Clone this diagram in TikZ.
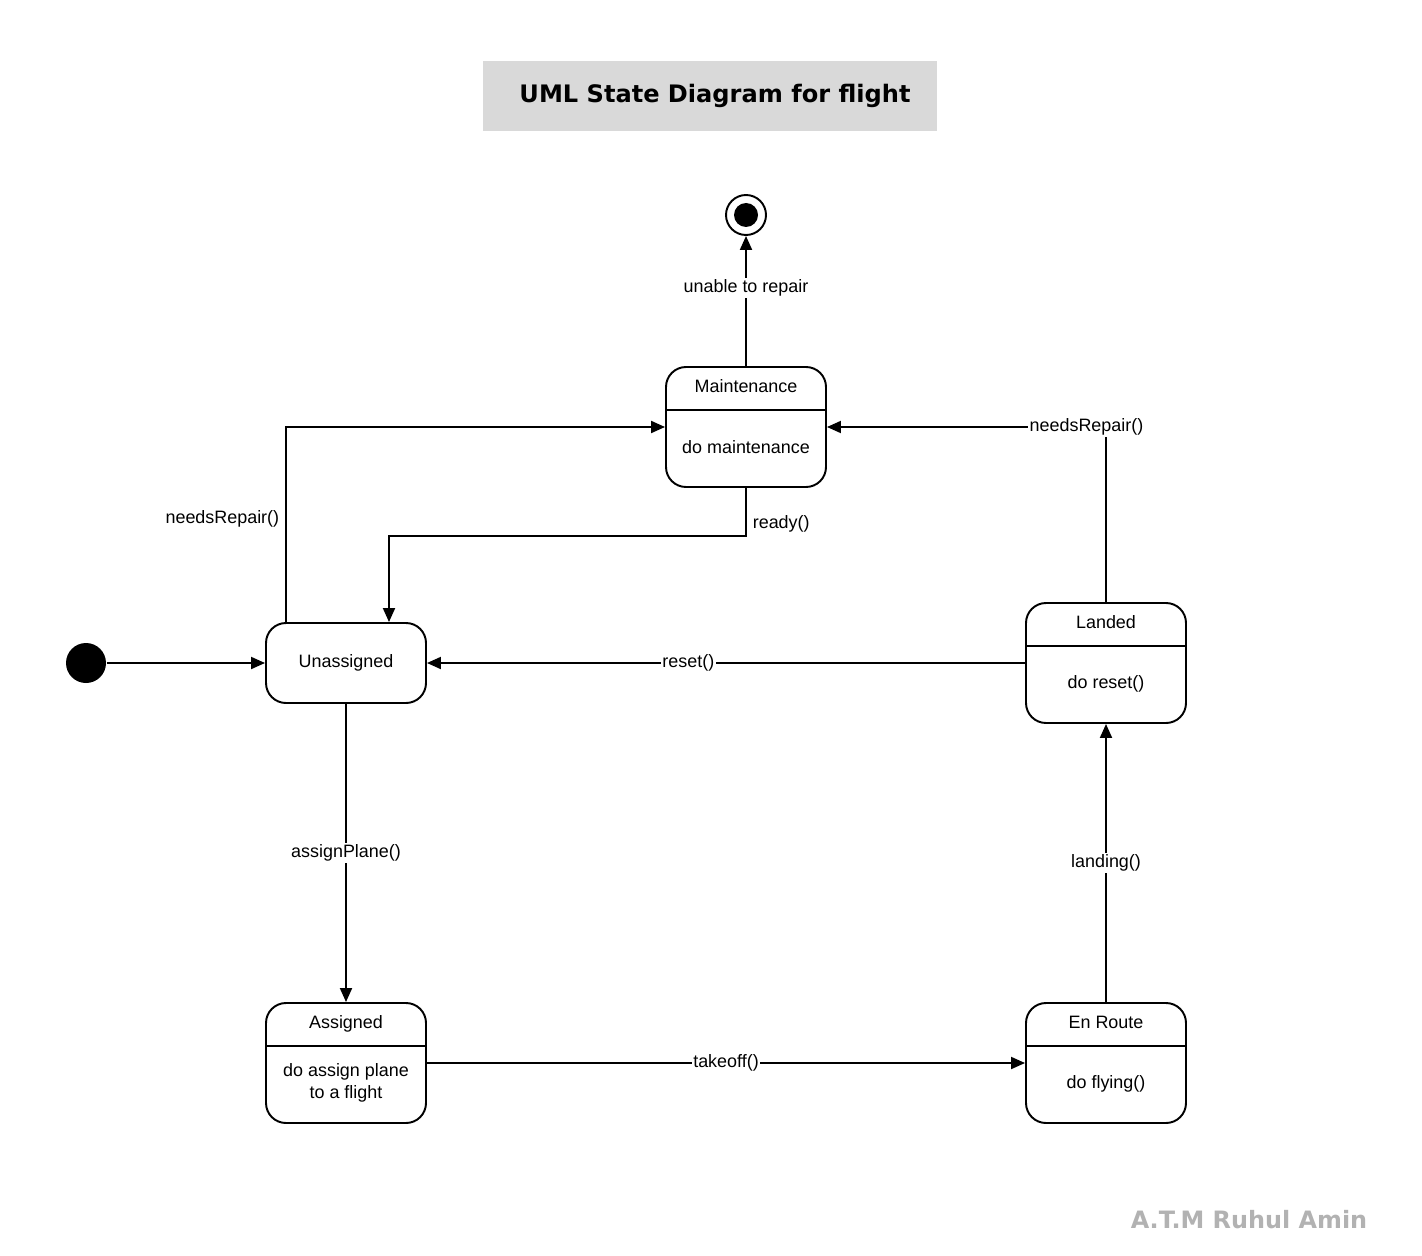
\documentclass[tikz,border=0pt]{standalone}
\usepackage{fontspec}
\setmainfont{Liberation Sans}
\newfontfamily\titlefont{DejaVu Sans}
\usepackage{tikz}
\usetikzlibrary{arrows.meta}
\definecolor{titlegray}{RGB}{217,217,217}
\definecolor{signgray}{RGB}{178,178,178}

\begin{document}
\begin{tikzpicture}[
	font=\fontsize{10.2}{12.2}\selectfont,
	line width=1.1pt,
	state/.style={draw,rounded corners=0.4cm,minimum width=3.2cm,minimum height=2.4cm,inner sep=0pt},
	trans/.style={-{Triangle[length=0.28cm,width=0.24cm]}},
	lbl/.style={fill=white,inner sep=1pt},
	]
	\useasboundingbox (0,0) rectangle (28.44,-25.12);
	\node[fill=titlegray,minimum width=9.08cm,minimum height=1.4cm] (title) at (14.2,-1.92) {};
	\node[font=\titlefont\bfseries\fontsize{13.7}{16}\selectfont] (titletext) at (14.3,-1.92) {UML State Diagram for flight};

	\node[draw,circle,minimum size=0.8cm,inner sep=0pt] (final) at (14.92,-4.30) {};
	\fill (final) circle (0.24);
	\node[fill,circle,minimum size=0.8cm,inner sep=0pt] (init) at (1.72,-13.26) {};

	\node[state] (maint) at (14.92,-8.54) {};
	\draw ([yshift=-0.88cm]maint.north west) -- ([yshift=-0.88cm]maint.north east);
	\node (maintname) at ([yshift=-0.4cm]maint.north) {Maintenance};
	\node (maintdo) at ([yshift=-0.4cm]maint.center) {do maintenance};

	\node[state,minimum height=1.6cm] (unassigned) at (6.92,-13.26) {Unassigned};

	\node[state] (landed) at (22.12,-13.26) {};
	\draw ([yshift=-0.88cm]landed.north west) -- ([yshift=-0.88cm]landed.north east);
	\node (landedname) at ([yshift=-0.4cm]landed.north) {Landed};
	\node (landeddo) at ([yshift=-0.42cm]landed.center) {do reset()};

	\node[state] (assigned) at (6.92,-21.26) {};
	\draw ([yshift=-0.88cm]assigned.north west) -- ([yshift=-0.88cm]assigned.north east);
	\node (assignedname) at ([yshift=-0.44cm]assigned.north) {Assigned};
	\node[align=center] (assigneddo) at ([yshift=-0.4cm]assigned.center) {do assign plane\\to a flight};

	\node[state] (enroute) at (22.12,-21.26) {};
	\draw ([yshift=-0.88cm]enroute.north west) -- ([yshift=-0.88cm]enroute.north east);
	\node (enroutename) at ([yshift=-0.4cm]enroute.north) {En Route};
	\node (enroutedo) at ([yshift=-0.42cm]enroute.center) {do flying()};

	\draw[trans] (init) -- (unassigned.west);
	\draw[trans] (maint.north) -- node[lbl,pos=0.6] {unable to repair} (final);
	\draw[trans] ([xshift=-1.2cm]unassigned.north) |- node[left,pos=0.265] {needsRepair()} (maint.west);
	\draw[trans] (maint.south) -- node[right,pos=0.75] {ready()} ++(0,-0.96) -| ([xshift=0.86cm]unassigned.north);
	\draw[trans] (landed.north) |- node[lbl,pos=0.535] {needsRepair()} (maint.east);
	\draw[trans] (landed.west) -- node[lbl,pos=0.563] {reset()} (unassigned.east);
	\draw[trans] (unassigned.south) -- node[lbl,pos=0.5] {assignPlane()} (assigned.north);
	\draw[trans] (assigned.east) -- node[lbl,pos=0.5] {takeoff()} (enroute.west);
	\draw[trans] (enroute.north) -- node[lbl,pos=0.5] {landing()} (landed.south);

	\node[text=signgray,font=\titlefont\bfseries\fontsize{13.6}{16}\selectfont] (sign) at (24.98,-24.4) {A.T.M Ruhul Amin};
\end{tikzpicture}
\end{document}
